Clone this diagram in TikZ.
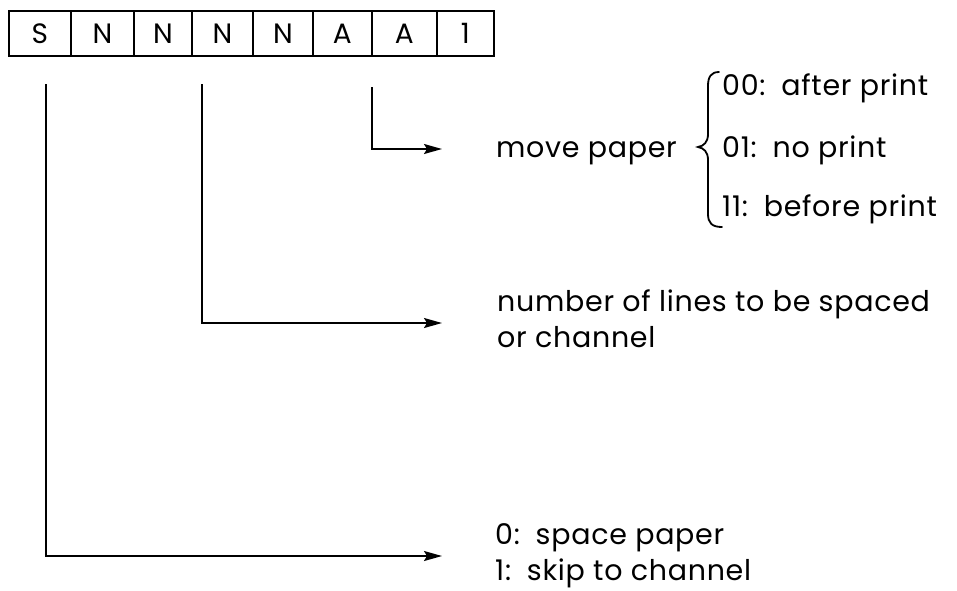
\documentclass[tikz,border=0pt]{standalone}
\usepackage{fontspec}
\setmainfont[LetterSpace=2.5]{Poppins}
\usetikzlibrary{arrows.meta}
\begin{document}
\begin{tikzpicture}[x=1pt,y=-1pt,
  cell/.style={draw, line width=1.8pt, minimum height=45pt, inner sep=0pt, anchor=north west, font=\fontsize{28}{30}\selectfont},
  conn/.style={line width=1.7pt, -{Stealth[length=18pt,width=10pt,inset=3pt]}},
  lbl/.style={anchor=base west, inner sep=0pt, font=\fontsize{28.5}{36}\selectfont}]
\useasboundingbox (0,0) rectangle (957,590);
\foreach \l/\r/\t/\n in {8/70/S/c1, 70/133/N/c2, 133/191/N/c3, 191/252/N/c4, 252/312/N/c5, 312/371/A/c6, 371/436/A/c7, 436/493/1/c8}
  \node[cell, minimum width={(\r-\l)*1pt}] (\n) at (\l,10) {\t};
% labels
\node[lbl] (mp) at (496,157) {move paper};
\node[lbl] (o00) at (722,95) {00:\, after print};
\node[lbl] (o01) at (722,157) {01:\, no print};
\node[lbl] (o11) at (722,216) {11:\, before print};
\node[lbl] (nl1) at (497,311) {number of lines to be spaced};
\node[lbl] (nl2) at (497,347) {or channel};
\node[lbl] (sp0) at (495,544) {0:\, space paper};
\node[lbl] (sp1) at (495,580) {1:\, skip to channel};
% connectors
\coordinate (aTop) at (372,87);
\coordinate (aEnd) at (442,149);
\coordinate (nTop) at (202,84);
\coordinate (nEnd) at (442,323);
\coordinate (sTop) at (46,84);
\coordinate (sEnd) at (442,556);
\draw[conn] (aTop) |- (aEnd);
\draw[conn] (nTop) |- (nEnd);
\draw[conn] (sTop) |- (sEnd);
% brace
\draw[line width=1.8pt, line cap=round] (719,72) .. controls (711,72) and (708,77) .. (708,86) -- (708,134) .. controls (708,142) and (704,146) .. (698,147) .. controls (704,148) and (708,152) .. (708,160) -- (708,214) .. controls (708,223) and (712,227) .. (722,227);
\end{tikzpicture}
\end{document}
